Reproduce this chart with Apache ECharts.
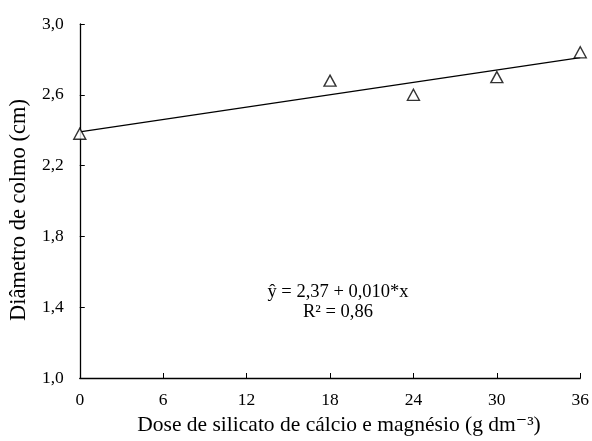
<!DOCTYPE html>
<html lang="pt">
<head>
    <meta charset="UTF-8">
    <title>Diâmetro de colmo</title>
    <style>
        body { margin: 0; padding: 0; background: #fff; }
        #chart { width: 592px; height: 441px; }
    </style>
</head>
<body>
    <div id="chart"></div>
    <script src="https://cdn.jsdelivr.net/npm/echarts@6/dist/echarts.min.js"></script>
    <script>
        // dados
        var doses = [0, 18, 24, 30, 36];
        var diametro = [2.38, 2.68, 2.60, 2.70, 2.84];
        var trendX = [0, 36];
        var trendY = [2.39, 2.81];
        var xTicks = [0, 6, 12, 18, 24, 30, 36];
        var yTicks = [1.0, 1.4, 1.8, 2.2, 2.6, 3.0];

        var serif = '"Liberation Serif", "DejaVu Serif", serif';
        var chart = echarts.init(document.getElementById('chart'));

        var option = {
            animation: false,
            backgroundColor: '#fff',
            grid: { left: 79, right: 11, top: 24, bottom: 63 },
            xAxis: {
                type: 'value',
                min: xTicks[0],
                max: xTicks[xTicks.length - 1],
                interval: 6,
                name: 'Dose de silicato de cálcio e magnésio (g dm⁻³)',
                nameLocation: 'middle',
                nameGap: 35,
                nameTextStyle: { fontFamily: serif, fontSize: 21.5, color: '#000', padding: [0, 0, 0, 18] },
                axisLine: { lineStyle: { color: '#000', width: 1.3 } },
                axisTick: { inside: true, length: 5, lineStyle: { color: '#000' } },
                axisLabel: { fontFamily: serif, fontSize: 17.5, color: '#000', margin: 13 },
                splitLine: { show: false }
            },
            yAxis: {
                type: 'value',
                min: yTicks[0],
                max: yTicks[yTicks.length - 1],
                interval: 0.4,
                name: 'Diâmetro de colmo (cm)',
                nameLocation: 'middle',
                nameGap: 43,
                nameTextStyle: { fontFamily: serif, fontSize: 22.5, color: '#000', padding: [0, 18, 0, 0] },
                axisLine: { show: true, lineStyle: { color: '#000', width: 1.3 } },
                axisTick: { show: true, inside: true, length: 5, lineStyle: { color: '#000' } },
                axisLabel: {
                    fontFamily: serif, fontSize: 17.5, color: '#000', margin: 16,
                    formatter: function (v) { return v.toFixed(1).replace('.', ','); }
                },
                splitLine: { show: false }
            },
            series: [
                {
                    type: 'line',
                    data: trendX.map(function (x, i) { return [x, trendY[i]]; }),
                    showSymbol: false,
                    symbol: 'none',
                    lineStyle: { color: '#000', width: 1.3 },
                    z: 2
                },
                {
                    type: 'scatter',
                    data: doses.map(function (x, i) { return [x, diametro[i]]; }),
                    symbol: 'triangle',
                    symbolSize: [12, 11],
                    clip: false,
                    itemStyle: { color: '#fff', borderColor: '#000', borderWidth: 1.4 },
                    z: 3
                }
            ],
            graphic: [
                {
                    type: 'text', x: 338, y: 292,
                    style: {
                        text: 'ŷ = 2,37 + 0,010*x', font: '18.5px ' + serif, fill: '#000',
                        align: 'center', verticalAlign: 'middle'
                    }
                },
                {
                    type: 'text', x: 338, y: 312,
                    style: {
                        text: 'R² = 0,86', font: '18.5px ' + serif, fill: '#000',
                        align: 'center', verticalAlign: 'middle'
                    }
                }
            ]
        };

        chart.setOption(option);
    </script>
</body>
</html>
